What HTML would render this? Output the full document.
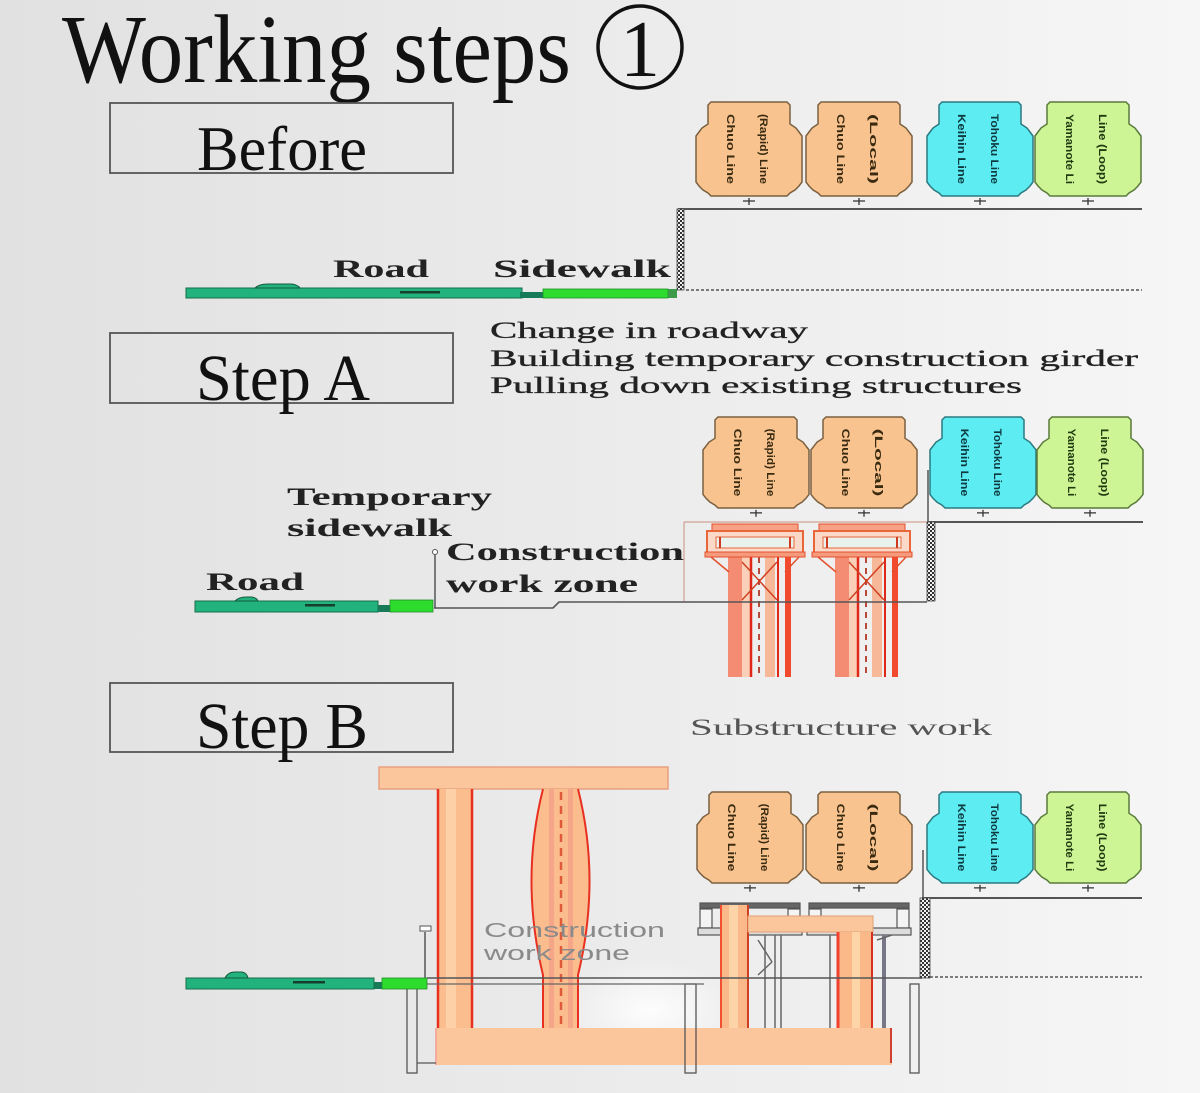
<!DOCTYPE html>
<html><head><meta charset="utf-8"><style>
html,body{margin:0;padding:0;width:1200px;height:1093px;overflow:hidden;background:#e8e8e8}
svg{display:block}
</style></head><body>
<svg width="1200" height="1093" viewBox="0 0 1200 1093" xmlns="http://www.w3.org/2000/svg">
<defs>
<linearGradient id="bg" x1="0" y1="0" x2="1" y2="0">
<stop offset="0" stop-color="#e1e1e1"/><stop offset="0.5" stop-color="#ebebeb"/><stop offset="1" stop-color="#f6f6f6"/>
</linearGradient>
<radialGradient id="glow" cx="0.5" cy="0.5" r="0.5">
<stop offset="0" stop-color="#ffffff" stop-opacity="0.9"/><stop offset="1" stop-color="#ffffff" stop-opacity="0"/>
</radialGradient>
<pattern id="hatch" width="4" height="4" patternUnits="userSpaceOnUse">
<rect width="4" height="4" fill="#f0f0f0"/><rect width="2" height="2" fill="#333"/><rect x="2" y="2" width="2" height="2" fill="#333"/>
</pattern>
</defs>
<rect width="1200" height="1093" fill="url(#bg)"/>
<ellipse cx="650" cy="1010" rx="90" ry="50" fill="url(#glow)"/>

<!-- Title -->
<text x="62" y="82" font-family="'Liberation Serif',serif" font-size="97" fill="#111" textLength="509" lengthAdjust="spacingAndGlyphs">Working steps</text>
<ellipse cx="640" cy="47" rx="42" ry="41" fill="none" stroke="#111" stroke-width="3.5"/>
<text x="640" y="76" font-family="'Liberation Serif',serif" font-size="80" fill="#111" text-anchor="middle">1</text>

<!-- Step boxes -->
<rect x="110" y="103" width="343" height="70" fill="none" stroke="#555" stroke-width="1.8"/>
<text x="197" y="170" font-family="'Liberation Serif',serif" font-size="64" fill="#111" textLength="170" lengthAdjust="spacingAndGlyphs">Before</text>
<rect x="110" y="333" width="343" height="70" fill="none" stroke="#555" stroke-width="1.8"/>
<text x="196" y="400" font-family="'Liberation Serif',serif" font-size="66" fill="#111" textLength="174" lengthAdjust="spacingAndGlyphs">Step A</text>
<rect x="110" y="683" width="343" height="69" fill="none" stroke="#555" stroke-width="1.8"/>
<text x="196" y="748" font-family="'Liberation Serif',serif" font-size="66" fill="#111" textLength="172" lengthAdjust="spacingAndGlyphs">Step B</text>

<!-- Step A description -->
<g font-family="'Liberation Serif',serif" font-size="23" fill="#222" stroke="#222" stroke-width="0.3">
<text x="490" y="338" textLength="318" lengthAdjust="spacingAndGlyphs">Change in roadway</text>
<text x="490" y="366" textLength="648" lengthAdjust="spacingAndGlyphs">Building temporary construction girder</text>
<text x="490" y="393" textLength="532" lengthAdjust="spacingAndGlyphs">Pulling down existing structures</text>
</g>

<!-- Labels -->
<g font-family="'Liberation Serif',serif" font-weight="bold" font-size="25" fill="#222">
<text x="333" y="277" textLength="96" lengthAdjust="spacingAndGlyphs">Road</text>
<text x="493" y="277" textLength="178" lengthAdjust="spacingAndGlyphs">Sidewalk</text>
<text x="287" y="505" textLength="205" lengthAdjust="spacingAndGlyphs">Temporary</text>
<text x="287" y="536" textLength="165" lengthAdjust="spacingAndGlyphs">sidewalk</text>
<text x="446" y="560" textLength="238" lengthAdjust="spacingAndGlyphs">Construction</text>
<text x="446" y="592" textLength="192" lengthAdjust="spacingAndGlyphs">work zone</text>
<text x="206" y="590" textLength="98" lengthAdjust="spacingAndGlyphs">Road</text>
</g>
<text x="690" y="735" font-family="'Liberation Serif',serif" font-size="23" fill="#555" textLength="302" lengthAdjust="spacingAndGlyphs">Substructure work</text>

<!-- ============ BEFORE ============ -->
<!-- cars -->
<g transform="translate(696,102)">
<polygon points="15,0 91,0 94,3 94,22 100,26 103,30 106,34 106,80 103,84 99,88 94,91 91,94 15,94 12,91 7,88 3,84 0,80 0,34 3,30 6,26 12,22 12,3" fill="#f8c38e" stroke="#7a6040" stroke-width="1.5"/>
<g font-family="'Liberation Sans',sans-serif" font-weight="bold" font-size="11" fill="#3a2a10"><text transform="translate(31,12) rotate(90)" textLength="70" lengthAdjust="spacingAndGlyphs">Chuo Line</text><text transform="translate(64,12) rotate(90)" textLength="70" lengthAdjust="spacingAndGlyphs">(Rapid) Line</text></g>
<path d="M47 99 H59 M53 96 V103" stroke="#333" stroke-width="1.3"/>
</g>
<g transform="translate(806,102)">
<polygon points="15,0 91,0 94,3 94,22 100,26 103,30 106,34 106,80 103,84 99,88 94,91 91,94 15,94 12,91 7,88 3,84 0,80 0,34 3,30 6,26 12,22 12,3" fill="#f8c38e" stroke="#7a6040" stroke-width="1.5"/>
<g font-family="'Liberation Sans',sans-serif" font-weight="bold" font-size="11" fill="#3a2a10"><text transform="translate(31,12) rotate(90)" textLength="70" lengthAdjust="spacingAndGlyphs">Chuo Line</text><text transform="translate(64,12) rotate(90)" textLength="70" lengthAdjust="spacingAndGlyphs">(Local)</text></g>
<path d="M47 99 H59 M53 96 V103" stroke="#333" stroke-width="1.3"/>
</g>
<g transform="translate(927,102)">
<polygon points="15,0 91,0 94,3 94,22 100,26 103,30 106,34 106,80 103,84 99,88 94,91 91,94 15,94 12,91 7,88 3,84 0,80 0,34 3,30 6,26 12,22 12,3" fill="#5cecf2" stroke="#2a7a80" stroke-width="1.5"/>
<g font-family="'Liberation Sans',sans-serif" font-weight="bold" font-size="11" fill="#0e3a40"><text transform="translate(31,12) rotate(90)" textLength="70" lengthAdjust="spacingAndGlyphs">Keihin Line</text><text transform="translate(64,12) rotate(90)" textLength="70" lengthAdjust="spacingAndGlyphs">Tohoku Line</text></g>
<path d="M47 99 H59 M53 96 V103" stroke="#333" stroke-width="1.3"/>
</g>
<g transform="translate(1035,102)">
<polygon points="15,0 91,0 94,3 94,22 100,26 103,30 106,34 106,80 103,84 99,88 94,91 91,94 15,94 12,91 7,88 3,84 0,80 0,34 3,30 6,26 12,22 12,3" fill="#cdf596" stroke="#5a7a3a" stroke-width="1.5"/>
<g font-family="'Liberation Sans',sans-serif" font-weight="bold" font-size="11" fill="#203a10"><text transform="translate(31,12) rotate(90)" textLength="70" lengthAdjust="spacingAndGlyphs">Yamanote Li</text><text transform="translate(64,12) rotate(90)" textLength="70" lengthAdjust="spacingAndGlyphs">Line (Loop)</text></g>
<path d="M47 99 H59 M53 96 V103" stroke="#333" stroke-width="1.3"/>
</g>
<line x1="678" y1="209" x2="1142" y2="209" stroke="#555" stroke-width="2"/>
<rect x="677" y="209" width="7" height="81" fill="url(#hatch)" stroke="#444" stroke-width="0.8"/>
<line x1="686" y1="290" x2="1142" y2="290" stroke="#555" stroke-width="1.6" stroke-dasharray="3 2"/>
<!-- ground -->
<rect x="186" y="288" width="336" height="10" fill="#21b27d" stroke="#166f4c" stroke-width="1"/>
<path d="M255 288 Q259 284 268 284 L292 284 Q298 285 300 288 Z" fill="#21b27d" stroke="#165a40" stroke-width="1"/>
<rect x="400" y="291" width="40" height="2.5" fill="#173f2f"/>
<rect x="520" y="292" width="23" height="6" fill="#177a58"/>
<rect x="543" y="289" width="125" height="9" fill="#2ddc2d" stroke="#1f8f2a" stroke-width="0.8"/>
<rect x="668" y="289" width="9" height="9" fill="#3c9a4a"/>

<!-- ============ STEP A ============ -->
<g transform="translate(703,417) scale(1,0.968)">
<polygon points="15,0 91,0 94,3 94,22 100,26 103,30 106,34 106,80 103,84 99,88 94,91 91,94 15,94 12,91 7,88 3,84 0,80 0,34 3,30 6,26 12,22 12,3" fill="#f8c38e" stroke="#7a6040" stroke-width="1.5"/>
<g font-family="'Liberation Sans',sans-serif" font-weight="bold" font-size="11" fill="#3a2a10"><text transform="translate(31,12) rotate(90)" textLength="70" lengthAdjust="spacingAndGlyphs">Chuo Line</text><text transform="translate(64,12) rotate(90)" textLength="70" lengthAdjust="spacingAndGlyphs">(Rapid) Line</text></g>
<path d="M47 99 H59 M53 96 V103" stroke="#333" stroke-width="1.3"/>
</g>
<g transform="translate(811,417) scale(1,0.968)">
<polygon points="15,0 91,0 94,3 94,22 100,26 103,30 106,34 106,80 103,84 99,88 94,91 91,94 15,94 12,91 7,88 3,84 0,80 0,34 3,30 6,26 12,22 12,3" fill="#f8c38e" stroke="#7a6040" stroke-width="1.5"/>
<g font-family="'Liberation Sans',sans-serif" font-weight="bold" font-size="11" fill="#3a2a10"><text transform="translate(31,12) rotate(90)" textLength="70" lengthAdjust="spacingAndGlyphs">Chuo Line</text><text transform="translate(64,12) rotate(90)" textLength="70" lengthAdjust="spacingAndGlyphs">(Local)</text></g>
<path d="M47 99 H59 M53 96 V103" stroke="#333" stroke-width="1.3"/>
</g>
<g transform="translate(930,417) scale(1,0.968)">
<polygon points="15,0 91,0 94,3 94,22 100,26 103,30 106,34 106,80 103,84 99,88 94,91 91,94 15,94 12,91 7,88 3,84 0,80 0,34 3,30 6,26 12,22 12,3" fill="#5cecf2" stroke="#2a7a80" stroke-width="1.5"/>
<g font-family="'Liberation Sans',sans-serif" font-weight="bold" font-size="11" fill="#0e3a40"><text transform="translate(31,12) rotate(90)" textLength="70" lengthAdjust="spacingAndGlyphs">Keihin Line</text><text transform="translate(64,12) rotate(90)" textLength="70" lengthAdjust="spacingAndGlyphs">Tohoku Line</text></g>
<path d="M47 99 H59 M53 96 V103" stroke="#333" stroke-width="1.3"/>
</g>
<g transform="translate(1037,417) scale(1,0.968)">
<polygon points="15,0 91,0 94,3 94,22 100,26 103,30 106,34 106,80 103,84 99,88 94,91 91,94 15,94 12,91 7,88 3,84 0,80 0,34 3,30 6,26 12,22 12,3" fill="#cdf596" stroke="#5a7a3a" stroke-width="1.5"/>
<g font-family="'Liberation Sans',sans-serif" font-weight="bold" font-size="11" fill="#203a10"><text transform="translate(31,12) rotate(90)" textLength="70" lengthAdjust="spacingAndGlyphs">Yamanote Li</text><text transform="translate(64,12) rotate(90)" textLength="70" lengthAdjust="spacingAndGlyphs">Line (Loop)</text></g>
<path d="M47 99 H59 M53 96 V103" stroke="#333" stroke-width="1.3"/>
</g>
<!-- construction zone thin outline -->
<line x1="684" y1="522" x2="927" y2="522" stroke="#c99080" stroke-width="1"/>
<line x1="684" y1="522" x2="684" y2="602" stroke="#c99080" stroke-width="1"/>
<!-- piers -->
<g transform="translate(705,0)">
<rect x="23" y="557" width="14" height="120" fill="#f48c74"/>
<rect x="37" y="557" width="8" height="120" fill="#fbd0b8"/>
<line x1="46" y1="557" x2="46" y2="677" stroke="#e02818" stroke-width="2.5"/>
<line x1="54" y1="557" x2="54" y2="677" stroke="#b84838" stroke-width="2" stroke-dasharray="6 5"/>
<rect x="60" y="557" width="10" height="120" fill="#f6b898"/>
<line x1="73" y1="557" x2="73" y2="677" stroke="#e02818" stroke-width="2"/>
<rect x="80" y="557" width="6" height="120" fill="#f24a2e"/>
<line x1="37" y1="562" x2="72" y2="600" stroke="#d04020" stroke-width="1.5"/>
<line x1="72" y1="562" x2="37" y2="600" stroke="#d04020" stroke-width="1.5"/>
<line x1="6" y1="557" x2="24" y2="572" stroke="#e4502c" stroke-width="1.5"/>
<line x1="94" y1="557" x2="80" y2="572" stroke="#e4502c" stroke-width="1.5"/>
<rect x="7" y="524" width="86" height="7" fill="#f7a284" stroke="#e4502c" stroke-width="1"/>
<rect x="2" y="531" width="96" height="22" fill="#fbd9c8" stroke="#e8663a" stroke-width="2"/>
<rect x="11" y="537" width="78" height="11" fill="#eaf2ee" stroke="#e8663a" stroke-width="1"/>
<line x1="15" y1="537" x2="15" y2="548" stroke="#d03a20" stroke-width="2"/>
<line x1="85" y1="537" x2="85" y2="548" stroke="#d03a20" stroke-width="2"/>
<rect x="0" y="552" width="100" height="5" fill="#f59a7c" stroke="#e4502c" stroke-width="1"/>
</g>
<g transform="translate(812,0)">
<rect x="23" y="557" width="14" height="120" fill="#f48c74"/>
<rect x="37" y="557" width="8" height="120" fill="#fbd0b8"/>
<line x1="46" y1="557" x2="46" y2="677" stroke="#e02818" stroke-width="2.5"/>
<line x1="54" y1="557" x2="54" y2="677" stroke="#b84838" stroke-width="2" stroke-dasharray="6 5"/>
<rect x="60" y="557" width="10" height="120" fill="#f6b898"/>
<line x1="73" y1="557" x2="73" y2="677" stroke="#e02818" stroke-width="2"/>
<rect x="80" y="557" width="6" height="120" fill="#f24a2e"/>
<line x1="37" y1="562" x2="72" y2="600" stroke="#d04020" stroke-width="1.5"/>
<line x1="72" y1="562" x2="37" y2="600" stroke="#d04020" stroke-width="1.5"/>
<line x1="6" y1="557" x2="24" y2="572" stroke="#e4502c" stroke-width="1.5"/>
<line x1="94" y1="557" x2="80" y2="572" stroke="#e4502c" stroke-width="1.5"/>
<rect x="7" y="524" width="86" height="7" fill="#f7a284" stroke="#e4502c" stroke-width="1"/>
<rect x="2" y="531" width="96" height="22" fill="#fbd9c8" stroke="#e8663a" stroke-width="2"/>
<rect x="11" y="537" width="78" height="11" fill="#eaf2ee" stroke="#e8663a" stroke-width="1"/>
<line x1="15" y1="537" x2="15" y2="548" stroke="#d03a20" stroke-width="2"/>
<line x1="85" y1="537" x2="85" y2="548" stroke="#d03a20" stroke-width="2"/>
<rect x="0" y="552" width="100" height="5" fill="#f59a7c" stroke="#e4502c" stroke-width="1"/>
</g>
<!-- wall and lines -->
<line x1="928" y1="470" x2="928" y2="522" stroke="#555" stroke-width="1.5"/>
<line x1="928" y1="522" x2="1143" y2="522" stroke="#555" stroke-width="2"/>
<rect x="927" y="522" width="8" height="79" fill="url(#hatch)" stroke="#444" stroke-width="0.8"/>
<path d="M434 608 L553 608 L559 602 L927 602" fill="none" stroke="#555" stroke-width="1.6"/>
<line x1="435" y1="555" x2="435" y2="608" stroke="#555" stroke-width="1.5"/>
<circle cx="435" cy="552" r="2.5" fill="#fff" stroke="#555" stroke-width="1"/>
<!-- ground A -->
<rect x="195" y="601" width="183" height="11" fill="#21b27d" stroke="#166f4c" stroke-width="1"/>
<path d="M235 601 Q239 597 246 597 L252 597 Q257 598 258 601 Z" fill="#21b27d" stroke="#165a40" stroke-width="1"/>
<rect x="305" y="604" width="30" height="2.5" fill="#173f2f"/>
<rect x="378" y="605" width="12" height="7" fill="#177a58"/>
<rect x="390" y="600" width="43" height="12" fill="#2ddc2d" stroke="#1f8f2a" stroke-width="0.8"/>

<!-- ============ STEP B ============ -->
<g transform="translate(697,792) scale(1,0.968)">
<polygon points="15,0 91,0 94,3 94,22 100,26 103,30 106,34 106,80 103,84 99,88 94,91 91,94 15,94 12,91 7,88 3,84 0,80 0,34 3,30 6,26 12,22 12,3" fill="#f8c38e" stroke="#7a6040" stroke-width="1.5"/>
<g font-family="'Liberation Sans',sans-serif" font-weight="bold" font-size="11" fill="#3a2a10"><text transform="translate(31,12) rotate(90)" textLength="70" lengthAdjust="spacingAndGlyphs">Chuo Line</text><text transform="translate(64,12) rotate(90)" textLength="70" lengthAdjust="spacingAndGlyphs">(Rapid) Line</text></g>
<path d="M47 99 H59 M53 96 V103" stroke="#333" stroke-width="1.3"/>
</g>
<g transform="translate(806,792) scale(1,0.968)">
<polygon points="15,0 91,0 94,3 94,22 100,26 103,30 106,34 106,80 103,84 99,88 94,91 91,94 15,94 12,91 7,88 3,84 0,80 0,34 3,30 6,26 12,22 12,3" fill="#f8c38e" stroke="#7a6040" stroke-width="1.5"/>
<g font-family="'Liberation Sans',sans-serif" font-weight="bold" font-size="11" fill="#3a2a10"><text transform="translate(31,12) rotate(90)" textLength="70" lengthAdjust="spacingAndGlyphs">Chuo Line</text><text transform="translate(64,12) rotate(90)" textLength="70" lengthAdjust="spacingAndGlyphs">(Local)</text></g>
<path d="M47 99 H59 M53 96 V103" stroke="#333" stroke-width="1.3"/>
</g>
<g transform="translate(927,792) scale(1,0.968)">
<polygon points="15,0 91,0 94,3 94,22 100,26 103,30 106,34 106,80 103,84 99,88 94,91 91,94 15,94 12,91 7,88 3,84 0,80 0,34 3,30 6,26 12,22 12,3" fill="#5cecf2" stroke="#2a7a80" stroke-width="1.5"/>
<g font-family="'Liberation Sans',sans-serif" font-weight="bold" font-size="11" fill="#0e3a40"><text transform="translate(31,12) rotate(90)" textLength="70" lengthAdjust="spacingAndGlyphs">Keihin Line</text><text transform="translate(64,12) rotate(90)" textLength="70" lengthAdjust="spacingAndGlyphs">Tohoku Line</text></g>
<path d="M47 99 H59 M53 96 V103" stroke="#333" stroke-width="1.3"/>
</g>
<g transform="translate(1035,792) scale(1,0.968)">
<polygon points="15,0 91,0 94,3 94,22 100,26 103,30 106,34 106,80 103,84 99,88 94,91 91,94 15,94 12,91 7,88 3,84 0,80 0,34 3,30 6,26 12,22 12,3" fill="#cdf596" stroke="#5a7a3a" stroke-width="1.5"/>
<g font-family="'Liberation Sans',sans-serif" font-weight="bold" font-size="11" fill="#203a10"><text transform="translate(31,12) rotate(90)" textLength="70" lengthAdjust="spacingAndGlyphs">Yamanote Li</text><text transform="translate(64,12) rotate(90)" textLength="70" lengthAdjust="spacingAndGlyphs">Line (Loop)</text></g>
<path d="M47 99 H59 M53 96 V103" stroke="#333" stroke-width="1.3"/>
</g>

<!-- footing -->
<rect x="435" y="1028" width="457" height="37" fill="#fcc69c"/>
<line x1="436" y1="1028" x2="436" y2="1065" stroke="#f0a0a0" stroke-width="1.5"/>
<line x1="891" y1="1028" x2="891" y2="1063" stroke="#d04030" stroke-width="2"/>
<!-- big T deck & columns -->
<rect x="379" y="767" width="289" height="22" fill="#fcc69c" stroke="#e8a080" stroke-width="1.5"/>
<rect x="437" y="789" width="36" height="239" fill="#fbbd8e"/>
<rect x="446" y="789" width="10" height="239" fill="#fdd0a8"/>
<line x1="438" y1="789" x2="438" y2="1028" stroke="#e83020" stroke-width="2.5"/>
<line x1="472" y1="789" x2="472" y2="1028" stroke="#e83020" stroke-width="2.5"/>
<path d="M543 789 Q520 880 543 975 L543 1028 L578 1028 L578 975 Q601 880 578 789 Z" fill="#fbbd8e"/>
<path d="M543 789 Q520 880 543 975 L543 1028 M578 789 Q601 880 578 975 L578 1028" fill="none" stroke="#e83020" stroke-width="2"/>
<rect x="549" y="789" width="5" height="239" fill="#f6a688"/>
<rect x="568" y="789" width="5" height="239" fill="#f6a688"/>
<line x1="561" y1="792" x2="561" y2="1026" stroke="#e05a3a" stroke-width="2.5" stroke-dasharray="8 6"/>
<!-- step B label -->
<g font-family="'Liberation Sans',sans-serif" font-size="20" fill="#8a8a8a">
<text x="484" y="937" textLength="181" lengthAdjust="spacingAndGlyphs">Construction</text>
<text x="484" y="960" textLength="146" lengthAdjust="spacingAndGlyphs">work zone</text>
</g>
<!-- right structure: temp girders (gray) -->
<g stroke="#555" stroke-width="1.2" fill="none">
<rect x="700" y="903" width="100" height="5" fill="#666"/>
<rect x="700" y="909" width="12" height="19" fill="#f4f4f4"/>
<rect x="788" y="909" width="12" height="19" fill="#f4f4f4"/>
<rect x="698" y="928" width="104" height="7" fill="#ddd"/>
<rect x="809" y="903" width="100" height="5" fill="#666"/>
<rect x="809" y="909" width="12" height="19" fill="#f4f4f4"/>
<rect x="897" y="909" width="12" height="19" fill="#f4f4f4"/>
<rect x="807" y="928" width="104" height="7" fill="#ddd"/>
</g>
<!-- gray verticals & bracing -->
<g stroke="#666" stroke-width="1.5">
<line x1="765" y1="935" x2="765" y2="1028"/>
<line x1="775" y1="935" x2="775" y2="1028"/>
<line x1="781" y1="935" x2="781" y2="1028"/>
<line x1="830" y1="935" x2="830" y2="1028"/>
<line x1="758" y1="940" x2="772" y2="962"/>
<line x1="772" y1="962" x2="758" y2="975"/>
<line x1="884" y1="935" x2="884" y2="1028" stroke-width="4" stroke="#778"/>
<line x1="877" y1="940" x2="892" y2="935"/>
</g>
<!-- orange columns -->
<rect x="720" y="905" width="28" height="123" fill="#fbb98a"/>
<rect x="729" y="905" width="9" height="123" fill="#fdd4a8"/>
<line x1="721" y1="905" x2="721" y2="1028" stroke="#f05030" stroke-width="2"/>
<line x1="748" y1="905" x2="748" y2="1028" stroke="#d04020" stroke-width="2"/>
<rect x="748" y="916" width="125" height="16" fill="#fcc69c" stroke="#e0a070" stroke-width="1"/>
<rect x="837" y="932" width="36" height="96" fill="#fbb98a"/>
<rect x="852" y="932" width="8" height="96" fill="#fdd4a8"/>
<line x1="838" y1="932" x2="838" y2="1028" stroke="#f04030" stroke-width="3"/>
<line x1="872" y1="932" x2="872" y2="1028" stroke="#d83020" stroke-width="2"/>
<!-- piles -->
<rect x="407" y="984" width="10" height="89" fill="none" stroke="#555" stroke-width="1.3"/>
<line x1="417" y1="1063" x2="436" y2="1063" stroke="#555" stroke-width="1.3"/>
<rect x="685" y="984" width="11" height="89" fill="none" stroke="#555" stroke-width="1.3"/>
<rect x="910" y="984" width="9" height="89" fill="none" stroke="#555" stroke-width="1.3"/>
<!-- ground lines B -->
<line x1="427" y1="978" x2="922" y2="978" stroke="#555" stroke-width="1.6"/>
<line x1="407" y1="984" x2="704" y2="984" stroke="#666" stroke-width="1.3"/>
<line x1="923" y1="850" x2="923" y2="898" stroke="#555" stroke-width="1.5"/>
<line x1="922" y1="898" x2="1142" y2="898" stroke="#555" stroke-width="2"/>
<rect x="920" y="898" width="10" height="80" fill="url(#hatch)" stroke="#444" stroke-width="0.8"/>
<line x1="930" y1="977" x2="1142" y2="977" stroke="#555" stroke-width="1.6" stroke-dasharray="3 2"/>
<line x1="425" y1="932" x2="425" y2="978" stroke="#555" stroke-width="1.5"/>
<rect x="420" y="926" width="11" height="5" fill="#fff" stroke="#555" stroke-width="1"/>
<!-- ground B -->
<rect x="186" y="978" width="188" height="11" fill="#21b27d" stroke="#166f4c" stroke-width="1"/>
<path d="M225 978 Q228 972 235 972 L242 972 Q247 973 248 978 Z" fill="#21b27d" stroke="#165a40" stroke-width="1"/>
<rect x="293" y="981" width="32" height="2.5" fill="#173f2f"/>
<rect x="374" y="982" width="8" height="7" fill="#177a58"/>
<rect x="382" y="978" width="45" height="11" fill="#2ddc2d" stroke="#1f8f2a" stroke-width="0.8"/>
</svg>
</body></html>
